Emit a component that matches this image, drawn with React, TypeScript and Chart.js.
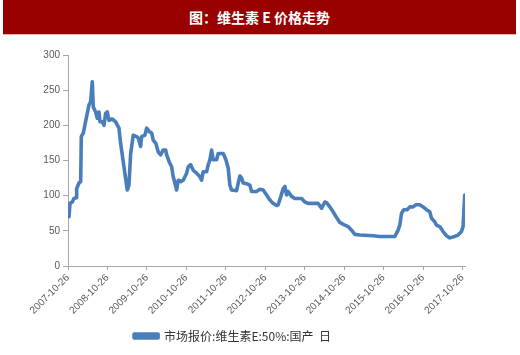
import React, { useEffect, useRef } from "react";
import { Chart, registerables } from "chart.js";

Chart.register(...registerables);

const TITLE = "图：维生素 E 价格走势";
const SERIES_LABEL = "市场报价:维生素E:50%:国产  日";

// Dates as decimal years
const dates = [
  2007.841, 2007.867, 2007.925, 2007.968, 2008.026, 2008.036, 2008.095, 2008.138, 2008.153, 2008.204,
  2008.348, 2008.391, 2008.432, 2008.457, 2008.518, 2008.558, 2008.601, 2008.627, 2008.685, 2008.728,
  2008.771, 2008.812, 2008.855, 2008.938, 2009.025, 2009.108, 2009.151, 2009.235, 2009.318, 2009.361,
  2009.405, 2009.47, 2009.557, 2009.597, 2009.658, 2009.683, 2009.767, 2009.81, 2009.876, 2009.937,
  2009.977, 2010.046, 2010.104, 2010.165, 2010.23, 2010.291, 2010.317, 2010.383, 2010.443, 2010.484,
  2010.527, 2010.57, 2010.611, 2010.679, 2010.737, 2010.78, 2010.823, 2010.864, 2010.925, 2010.991,
  2011.077, 2011.16, 2011.203, 2011.244, 2011.33, 2011.371, 2011.414, 2011.457, 2011.497, 2011.583,
  2011.624, 2011.751, 2011.819, 2011.877, 2011.92, 2011.963, 2012.09, 2012.131, 2012.174, 2012.217,
  2012.257, 2012.344, 2012.427, 2012.47, 2012.597, 2012.68, 2012.764, 2012.85, 2012.934, 2013.017,
  2013.104, 2013.144, 2013.213, 2013.271, 2013.314, 2013.357, 2013.397, 2013.484, 2013.567, 2013.737,
  2013.821, 2013.904, 2014.158, 2014.244, 2014.327, 2014.37, 2014.454, 2014.538, 2014.624, 2014.707,
  2014.834, 2014.918, 2015.004, 2015.087, 2015.214, 2015.551, 2015.721, 2016.101, 2016.184, 2016.227,
  2016.271, 2016.329, 2016.412, 2016.481, 2016.564, 2016.633, 2016.734, 2016.818, 2016.904, 2016.988,
  2017.031, 2017.114, 2017.157, 2017.241, 2017.324, 2017.411, 2017.494, 2017.621, 2017.704, 2017.791,
  2017.831, 2017.874,
];

const prices = [
  70, 89, 91, 96, 97, 110, 118, 120, 184, 189,
  229, 234, 262, 226, 219, 210, 219, 205, 205, 200,
  217, 219, 207, 209, 205, 196, 174, 141, 108, 115,
  160, 186, 184, 182, 170, 184, 186, 196, 191, 189,
  179, 174, 162, 158, 165, 165, 158, 148, 141, 127,
  118, 108, 122, 120, 122, 127, 132, 141, 144, 136,
  132, 127, 122, 134, 134, 144, 151, 165, 151, 151,
  160, 160, 151, 139, 115, 108, 107, 118, 128, 125,
  118, 117, 115, 106, 106, 109, 108, 101, 94, 89,
  86, 87, 99, 110, 113, 101, 106, 99, 96, 96,
  91, 89, 89, 82, 91, 90, 84, 77, 69, 62,
  58, 56, 51, 45, 44, 43, 42, 42, 51, 58,
  75, 80, 80, 84, 84, 87, 87, 84, 80, 77,
  68, 63, 58, 56, 49, 43, 40, 42, 44, 49,
  56, 101,
];

const tickYears = [2007, 2008, 2009, 2010, 2011, 2012, 2013, 2014, 2015, 2016, 2017];
const TICK_DAY_SUFFIX = "-10-26";
const OCT26 = 298 / 365;
const X_MAX = 2017.88;
const yTicks = [0, 50, 100, 150, 200, 250, 300];

export default function App() {
  const canvasRef = useRef<HTMLCanvasElement | null>(null);

  useEffect(() => {
    const canvas = canvasRef.current;
    if (!canvas) return;
    const points = dates.map((d, i) => ({ x: d, y: prices[i] }));
    const chart = new Chart(canvas, {
      type: "line",
      data: {
        datasets: [
          {
            label: SERIES_LABEL,
            data: points,
            borderColor: "#4a7ebb",
            backgroundColor: "#4a7ebb",
            borderWidth: 3.6,
            pointRadius: 0,
            tension: 0,
            borderJoinStyle: "round",
            borderCapStyle: "round",
          },
        ],
      },
      options: {
        responsive: false,
        animation: false,
        devicePixelRatio: 1,
        layout: { padding: { top: 55, right: 55, bottom: 3, left: 0 } },
        plugins: {
          legend: {
            display: true,
            position: "bottom",
            labels: {
              boxWidth: 24,
              boxHeight: 4,
              padding: 10,
              color: "#333333",
              font: { family: "'Noto Sans CJK SC', sans-serif", size: 12 },
            },
          },
          tooltip: { enabled: false },
        },
        scales: {
          x: {
            type: "linear",
            min: tickYears[0] + OCT26,
            max: X_MAX,
            afterBuildTicks: (scale: any) => {
              scale.ticks = tickYears.map((y) => ({ value: y + OCT26 }));
            },
            afterFit: (scale: any) => {
              scale.height = 54;
            },
            grid: {
              display: true,
              drawOnChartArea: false,
              drawTicks: true,
              tickLength: 4,
              color: "#a6a6a6",
            },
            border: { display: true, color: "#a6a6a6", width: 1 },
            ticks: {
              autoSkip: false,
              minRotation: 45,
              maxRotation: 45,
              padding: 2,
              color: "#595959",
              font: { family: "'Liberation Sans', Arial, sans-serif", size: 10 },
              callback: (value: any) => `${Math.floor(Number(value) + 1e-6)}${TICK_DAY_SUFFIX}`,
            },
          },
          y: {
            min: 0,
            max: 300,
            afterBuildTicks: (scale: any) => {
              scale.ticks = yTicks.map((v) => ({ value: v }));
            },
            afterFit: (scale: any) => {
              scale.width = 68;
            },
            grid: {
              display: true,
              drawOnChartArea: false,
              drawTicks: true,
              tickLength: 5,
              color: "#a6a6a6",
            },
            border: { display: true, color: "#a6a6a6", width: 1 },
            ticks: {
              padding: 3,
              color: "#595959",
              font: { family: "'Liberation Sans', Arial, sans-serif", size: 10 },
            },
          },
        },
      },
    });
    return () => chart.destroy();
  }, []);

  return (
    <div
      style={{
        position: "absolute",
        left: 0,
        top: 0,
        width: 520,
        height: 355,
        background: "#ffffff",
        overflow: "hidden",
      }}
    >
      <canvas
        ref={canvasRef}
        width={520}
        height={355}
        style={{ position: "absolute", left: 0, top: 0, width: 520, height: 355 }}
      />
      <div
        style={{
          position: "absolute",
          left: 3,
          top: 0,
          width: 513,
          height: 34,
          background: "#990000",
          borderBottom: "1px solid #e8b0b0",
          color: "#ffffff",
          fontFamily: "'Noto Sans CJK SC', sans-serif",
          fontWeight: 700,
          fontSize: 14,
          lineHeight: "34px",
          textAlign: "center",
          whiteSpace: "pre",
        }}
      >
        {TITLE}
      </div>
    </div>
  );
}
